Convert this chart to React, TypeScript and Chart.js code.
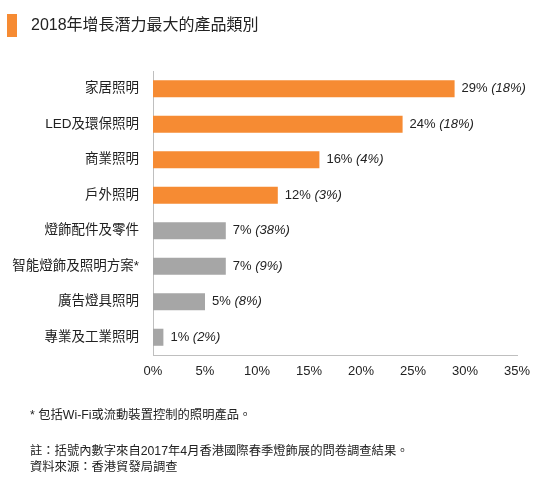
import React, { useEffect, useRef } from "react";
import { Chart, registerables } from "chart.js";

Chart.register(...registerables);

const categories = [
  "家居照明",
  "LED及環保照明",
  "商業照明",
  "戶外照明",
  "燈飾配件及零件",
  "智能燈飾及照明方案*",
  "廣告燈具照明",
  "專業及工業照明",
];
const values2018 = [29, 24, 16, 12, 7, 7, 5, 1];
const values2017 = [18, 18, 4, 3, 38, 9, 8, 2];
const barColors = [
  "#F68B33",
  "#F68B33",
  "#F68B33",
  "#F68B33",
  "#A6A6A6",
  "#A6A6A6",
  "#A6A6A6",
  "#A6A6A6",
];
const xTicks = [0, 5, 10, 15, 20, 25, 30, 35];

const FONT = "'Liberation Sans', 'Noto Sans CJK TC', sans-serif";
const TEXT = "#222222";

// value label: "29% " plain + "(18%)" italic, right of each bar
const valueLabels = {
  id: "valueLabels",
  afterDatasetsDraw(chart: Chart) {
    const ctx = chart.ctx;
    const meta = chart.getDatasetMeta(0);
    ctx.save();
    ctx.fillStyle = TEXT;
    ctx.textBaseline = "middle";
    ctx.textAlign = "left";
    meta.data.forEach((bar: any, i: number) => {
      const x = bar.x + 7;
      const y = bar.y;
      const main = `${values2018[i]}% `;
      ctx.font = `13px ${FONT}`;
      ctx.fillText(main, x, y);
      const w = ctx.measureText(main).width;
      ctx.font = `italic 13px ${FONT}`;
      ctx.fillText(`(${values2017[i]}%)`, x + w, y);
    });
    ctx.restore();
  },
};

const App: React.FC = () => {
  const chartRef = useRef<HTMLCanvasElement | null>(null);

  useEffect(() => {
    document.body.style.margin = "0";
    if (!chartRef.current) return;
    const ctx = chartRef.current.getContext("2d");
    if (!ctx) return;

    const myChart = new Chart(ctx, {
      type: "bar",
      data: {
        labels: categories,
        datasets: [
          {
            data: values2018,
            backgroundColor: barColors,
            borderWidth: 0,
            barPercentage: 0.48,
            categoryPercentage: 1,
          },
        ],
      },
      options: {
        indexAxis: "y",
        responsive: false,
        animation: false,
        layout: { padding: { top: 71, right: 33, left: 0, bottom: 0 } },
        plugins: {
          legend: { display: false },
          tooltip: { enabled: false },
        },
        scales: {
          x: {
            min: 0,
            max: 35,
            afterBuildTicks: (axis: any) => {
              axis.ticks = xTicks.map((v) => ({ value: v }));
            },
            afterFit: (axis: any) => {
              axis.height = 149;
            },
            grid: { display: false, drawTicks: false },
            border: { display: true, color: "#BFBFBF", width: 1 },
            ticks: {
              padding: 9,
              maxRotation: 0,
              autoSkip: false,
              color: TEXT,
              font: { family: FONT, size: 13 },
              callback: (v: any) => `${v}%`,
            },
          },
          y: {
            afterFit: (axis: any) => {
              axis.width = 153;
            },
            grid: { display: false, drawTicks: false },
            border: { display: true, color: "#BFBFBF", width: 1 },
            ticks: {
              padding: 14,
              color: TEXT,
              font: { family: FONT, size: 13.5 },
            },
          },
        },
      },
      plugins: [valueLabels],
    });

    return () => {
      myChart.destroy();
    };
  }, []);

  const noteStyle: React.CSSProperties = {
    position: "absolute",
    left: 30,
    fontSize: "12.3px",
    lineHeight: "16px",
    color: TEXT,
    whiteSpace: "nowrap",
  };

  return (
    <div
      style={{
        position: "relative",
        width: 550,
        height: 504,
        background: "#fff",
        fontFamily: FONT,
      }}
    >
      <canvas
        ref={chartRef}
        width={550}
        height={504}
        style={{ position: "absolute", left: 0, top: 0 }}
      />
      <div
        style={{
          position: "absolute",
          left: 7,
          top: 14,
          width: 10,
          height: 23,
          background: "#F68B33",
        }}
      />
      <div
        style={{
          position: "absolute",
          left: 31,
          top: 14,
          fontSize: "16px",
          lineHeight: "22px",
          color: TEXT,
          whiteSpace: "nowrap",
        }}
      >
        2018年增長潛力最大的產品類別
      </div>
      <div style={{ ...noteStyle, top: 407 }}>* 包括Wi-Fi或流動裝置控制的照明產品。</div>
      <div style={{ ...noteStyle, top: 443 }}>
        註：括號內數字來自2017年4月香港國際春季燈飾展的問卷調查結果。
      </div>
      <div style={{ ...noteStyle, top: 459 }}>資料來源：香港貿發局調查</div>
    </div>
  );
};

export default App;
